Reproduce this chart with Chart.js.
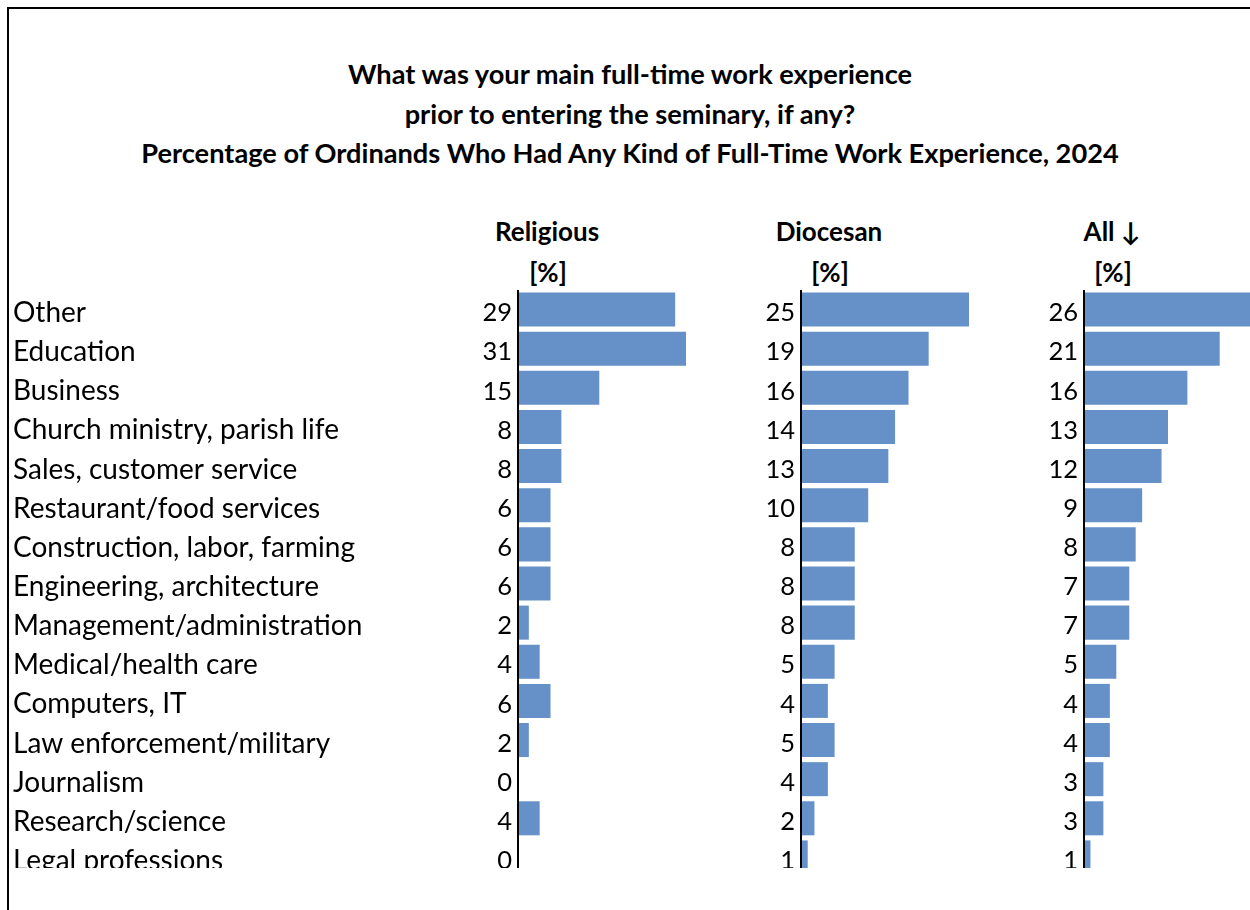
<!DOCTYPE html>
<html>
<head>
<meta charset="utf-8">
<script src="https://cdn.jsdelivr.net/npm/chart.js@4.4.1/dist/chart.umd.min.js"></script>
<style>
  html, body { margin:0; padding:0; background:#fff; width:1250px; height:910px; overflow:hidden; }
  #page { position:absolute; left:0; top:0; width:1250px; height:910px; overflow:hidden; background:#fff; }
  .bt { position:absolute; left:7px; top:7px; width:1300px; height:2px; background:#000; }
  .bl { position:absolute; left:7px; top:7px; width:2px; height:950px; background:#000; }
  #title { position:absolute; left:0; top:54px; width:1260px; text-align:center;
           font-family:Lato, "Liberation Sans", sans-serif; font-weight:bold; font-size:27.2px; line-height:39.5px; color:#000; }
  .hdr { position:absolute; font-family:Lato, "Liberation Sans", sans-serif; font-weight:bold; font-size:26px;
         line-height:30px; color:#000; white-space:nowrap; transform:translate(-50%,-50%); }
  #clip { position:absolute; left:0; top:0; width:1250px; height:868px; overflow:hidden; }
  #clip canvas { position:absolute; }
</style>
</head>
<body>
<div id="page">
  <div class="bt"></div>
  <div class="bl"></div>
  <div id="title">What was your main full-time work experience<br>prior to entering the seminary, if any?<br>Percentage of Ordinands Who Had Any Kind of Full-Time Work Experience, 2024</div>
  <div class="hdr" style="left:547px;top:231px;">Religious</div>
  <div class="hdr" style="left:829px;top:231px;">Diocesan</div>
  <div class="hdr" style="left:1112px;top:231px;">All ↓</div>
  <div class="hdr" style="left:548px;top:272px;">[%]</div>
  <div class="hdr" style="left:830px;top:272px;">[%]</div>
  <div class="hdr" style="left:1113px;top:272px;">[%]</div>
  <div id="clip">
    <canvas id="cRel" width="686" height="587" style="left:0px;top:290px;"></canvas>
    <canvas id="cDio" width="209" height="587" style="left:760px;top:290px;"></canvas>
    <canvas id="cAll" width="209" height="587" style="left:1043px;top:290px;"></canvas>
  </div>
</div>
<script>
const categories = [
  "Other", "Education", "Business", "Church ministry, parish life", "Sales, customer service",
  "Restaurant/food services", "Construction, labor, farming", "Engineering, architecture",
  "Management/administration", "Medical/health care", "Computers, IT", "Law enforcement/military",
  "Journalism", "Research/science", "Legal professions"
];
const religious = [29, 31, 15, 8, 8, 6, 6, 6, 2, 4, 6, 2, 0, 4, 0];
const diocesan  = [25, 19, 16, 14, 13, 10, 8, 8, 8, 5, 4, 5, 4, 2, 1];
const allOrdinands = [26, 21, 16, 13, 12, 9, 8, 7, 7, 5, 4, 4, 3, 3, 1];

const FONT = 'Lato, "Liberation Sans", sans-serif';
const CAT_SIZE = 28;
const VALUE_SIZE = 25.5;
const BAR_COLOR = '#6591c8';
const VALUE_AXIS_W = 41;

function valueAxis(values, weight) {
  return {
    type: 'category',
    position: 'left',
    offset: true,
    weight: weight,
    grid: { display: false, drawTicks: false },
    border: { display: true, color: '#000', width: 2, z: 1 },
    ticks: {
      autoSkip: false, padding: 6, color: '#000', labelOffset: 3.5,
      font: { family: FONT, size: VALUE_SIZE },
      callback: (v, i) => String(values[i])
    },
    afterFit: s => { s.width = VALUE_AXIS_W; s.paddingTop = 0; s.paddingBottom = 0; }
  };
}

function makePanel(id, values, withCategories) {
  const scales = {
    x: { display: false, min: 0, max: Math.max(...values) }
  };
  let padLeft = 0;
  if (withCategories) {
    padLeft = 13;
    scales.y = {
      type: 'category',
      position: 'left',
      offset: true,
      weight: 1,
      grid: { display: false, drawTicks: false },
      border: { display: false },
      ticks: {
        autoSkip: false, padding: 0, color: '#000', crossAlign: 'far', labelOffset: 3.5,
        font: { family: FONT, size: CAT_SIZE }
      },
      afterFit: s => { s.width = 518 - 13 - VALUE_AXIS_W; s.paddingTop = 0; s.paddingBottom = 0; }
    };
    scales.yv = valueAxis(values, 0);
  } else {
    scales.y = valueAxis(values, 0);
  }
  return new Chart(document.getElementById(id), {
    type: 'bar',
    data: {
      labels: categories,
      datasets: [{
        data: values,
        backgroundColor: BAR_COLOR,
        borderWidth: 0,
        barPercentage: 0.87,
        categoryPercentage: 1.0
      }]
    },
    options: {
      indexAxis: 'y',
      responsive: false,
      animation: false,
      layout: { padding: { left: padLeft, right: 0, top: 0, bottom: 0 } },
      plugins: { legend: { display: false }, tooltip: { enabled: false }, title: { display: false } },
      scales: scales
    }
  });
}

makePanel('cRel', religious, true);
makePanel('cDio', diocesan, false);
makePanel('cAll', allOrdinands, false);
</script>
</body>
</html>
